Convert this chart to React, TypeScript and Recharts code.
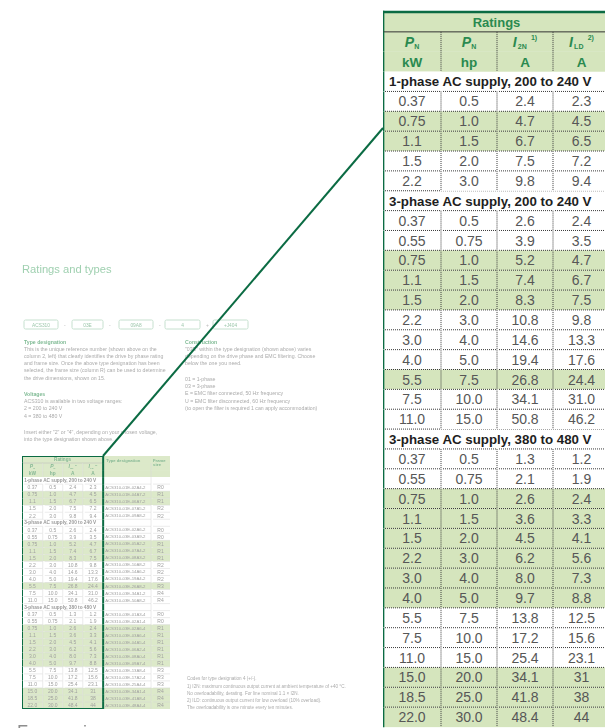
import React from 'react';
import { ComposedChart, Bar, XAxis, YAxis } from 'recharts';

// ---- table data ----
const sectionTitles = [
  '1-phase AC supply, 200 to 240 V',
  '3-phase AC supply, 200 to 240 V',
  '3-phase AC supply, 380 to 480 V',
];

const powerKw = [
  ['0.37', '0.75', '1.1', '1.5', '2.2'],
  ['0.37', '0.55', '0.75', '1.1', '1.5', '2.2', '3.0', '4.0', '5.5', '7.5', '11.0'],
  ['0.37', '0.55', '0.75', '1.1', '1.5', '2.2', '3.0', '4.0', '5.5', '7.5', '11.0', '15.0', '18.5', '22.0'],
];

const powerHp = [
  ['0.5', '1.0', '1.5', '2.0', '3.0'],
  ['0.5', '0.75', '1.0', '1.5', '2.0', '3.0', '4.0', '5.0', '7.5', '10.0', '15.0'],
  ['0.5', '0.75', '1.0', '1.5', '2.0', '3.0', '4.0', '5.0', '7.5', '10.0', '15.0', '20.0', '25.0', '30.0'],
];

const currentI2n = [
  ['2.4', '4.7', '6.7', '7.5', '9.8'],
  ['2.6', '3.9', '5.2', '7.4', '8.3', '10.8', '14.6', '19.4', '26.8', '34.1', '50.8'],
  ['1.3', '2.1', '2.6', '3.6', '4.5', '6.2', '8.0', '9.7', '13.8', '17.2', '25.4', '34.1', '41.8', '48.4'],
];

const currentIld = [
  ['2.3', '4.5', '6.5', '7.2', '9.4'],
  ['2.4', '3.5', '4.7', '6.7', '7.5', '9.8', '13.3', '17.6', '24.4', '31.0', '46.2'],
  ['1.2', '1.9', '2.4', '3.3', '4.1', '5.6', '7.3', '8.8', '12.5', '15.6', '23.1', '31', '38', '44'],
];

const shadedRows = [
  [0, 1, 1, 0, 0],
  [0, 0, 1, 1, 1, 0, 0, 0, 1, 0, 0],
  [0, 0, 1, 1, 1, 1, 1, 1, 0, 0, 0, 1, 1, 1],
];

// only visible (blurred) in the page thumbnail
const typeCodes = [
  ['ACS310-01E-02A4-2', 'ACS310-01E-04A7-2', 'ACS310-01E-06A7-2', 'ACS310-01E-07A5-2', 'ACS310-01E-09A8-2'],
  ['ACS310-03E-02A6-2', 'ACS310-03E-03A9-2', 'ACS310-03E-05A2-2', 'ACS310-03E-07A4-2', 'ACS310-03E-08A3-2',
    'ACS310-03E-10A8-2', 'ACS310-03E-14A6-2', 'ACS310-03E-19A4-2', 'ACS310-03E-26A8-2', 'ACS310-03E-34A1-2',
    'ACS310-03E-50A8-2'],
  ['ACS310-03E-01A3-4', 'ACS310-03E-02A1-4', 'ACS310-03E-02A6-4', 'ACS310-03E-03A6-4', 'ACS310-03E-04A5-4',
    'ACS310-03E-06A2-4', 'ACS310-03E-08A0-4', 'ACS310-03E-09A7-4', 'ACS310-03E-13A8-4', 'ACS310-03E-17A2-4',
    'ACS310-03E-25A4-4', 'ACS310-03E-34A1-4', 'ACS310-03E-41A8-4', 'ACS310-03E-48A4-4'],
];

const frameSizes = [
  ['R0', 'R1', 'R1', 'R2', 'R2'],
  ['R0', 'R0', 'R1', 'R1', 'R1', 'R2', 'R2', 'R2', 'R3', 'R4', 'R4'],
  ['R0', 'R0', 'R1', 'R1', 'R1', 'R1', 'R1', 'R1', 'R3', 'R3', 'R3', 'R4', 'R4', 'R4'],
];

const unitLabels = ['kW', 'hp', 'A', 'A'];

// ---- layout ----
const FONT = '"Liberation Sans", Arial, Helvetica, sans-serif';
const BIG_COLS = [58, 56, 56, 57];
const MINI_COLS = [58, 56, 56, 57, 134, 53];

type Look = {
  k: number;
  mini: boolean;
  fill: string;
  head: string;
  ink: string;
  sect: string;
  dot: string;
  dash?: string;
  rule: string;
  border: string;
  bw: number;
  soft?: string;
};

const bigLook: Look = {
  k: 1, mini: false, fill: '#d5e5bd', head: '#2a8a50', ink: '#575757', sect: '#1e1e1e',
  dot: '#3a3a3a', dash: '1 1', rule: '#333333', border: '#0b6b43', bw: 2.7,
};

const miniLook: Look = {
  k: 0.357, mini: true, fill: '#dce9c9', head: '#86b895', ink: '#a0a0a0', sect: '#9a9a9a',
  dot: '#d6d6d6', rule: '#b8b8b8', border: '#0b6b43', bw: 2, soft: 'url(#soft)',
};

function buildRows(cols: number[]) {
  const ratingW = cols[0] + cols[1] + cols[2] + cols[3];
  const span = (merged: boolean) => {
    const o: any = {};
    cols.forEach((c, i) => {
      o['w' + (i + 1)] = merged && i < 4 ? (i === 0 ? ratingW : 0) : c;
    });
    return o;
  };
  const rows: any[] = [];
  rows.push({ id: 'title', kind: 'title', top: 'none', ...span(true) });
  rows.push({ id: 'sym', kind: 'sym', top: 'solid', ...span(false) });
  rows.push({ id: 'unit', kind: 'unit', top: 'none', ...span(false) });
  sectionTitles.forEach((t, s) => {
    rows.push({ id: 's' + s, kind: 'section', label: t, top: s === 0 ? 'none' : 'dotted', ...span(true) });
    powerKw[s].forEach((kw, i) => {
      rows.push({
        id: 'd' + s + '-' + i,
        kind: 'data',
        cells: [kw, powerHp[s][i], currentI2n[s][i], currentIld[s][i], typeCodes[s][i], frameSizes[s][i]],
        shaded: shadedRows[s][i] === 1,
        top: 'dotted',
        ...span(false),
      });
    });
  });
  return rows;
}

function symbol(c: number, cx: number, cy: number, L: Look) {
  const fs = 14 * L.k;
  const common = {
    x: cx, y: cy + fs * 0.36, textAnchor: 'middle' as const, fill: L.head,
    fontWeight: 'bold', fontFamily: FONT, fontSize: fs,
  };
  if (c < 2) {
    return (
      <text {...common}>
        <tspan fontStyle="italic">P</tspan>
        <tspan fontSize={fs * 0.5} dy={fs * 0.12}>N</tspan>
      </text>
    );
  }
  if (c > 3) return null;
  const sub = c === 2 ? '2N' : 'LD';
  const sup = c === 2 ? '1)' : '2)';
  return (
    <text {...common}>
      <tspan fontStyle="italic">I</tspan>
      <tspan fontSize={fs * 0.5} dy={fs * 0.12} dx={fs * 0.08}>{sub}</tspan>
      <tspan fontSize={fs * 0.5} dy={-fs * 0.62} dx={fs * 0.3}>{sup}</tspan>
    </text>
  );
}

const makeCell = (c: number, L: Look, last: number) => (p: any) => {
  const { x, y, width, height, payload: r, index } = p;
  if (!(width > 0.01) || !r) return <g />;
  const k = L.k;
  const header = r.kind === 'title' || r.kind === 'sym' || r.kind === 'unit';
  const fill = header || r.shaded ? L.fill : '#ffffff';
  const cx = x + width / 2;
  const cy = y + height / 2;
  const topStyle = c >= 4 && (r.kind === 'sym' || r.kind === 'unit') ? 'none' : r.top;
  const lw = L.mini ? 0.5 : 1;

  let label: React.ReactNode = null;
  if (r.kind === 'title') {
    if (c === 0) {
      label = (
        <text x={cx} y={cy + 13 * k * 0.36} textAnchor="middle" fill={L.head} fontWeight="bold"
          fontFamily={FONT} fontSize={13 * k}>Ratings</text>
      );
    } else if (c === 4) {
      label = (
        <text x={x + 3} y={y + height * 0.8} fill={L.head} fontWeight="bold" fontFamily={FONT}
          fontSize={4.2}>Type designation</text>
      );
    } else if (c === 5) {
      label = (
        <text x={x + 2} y={y + height * 0.8} fill={L.head} fontWeight="bold" fontFamily={FONT}
          fontSize={4.2}>Frame</text>
      );
    }
  } else if (r.kind === 'sym') {
    if (c === 5) {
      label = (
        <text x={x + 2} y={y + 3} fill={L.head} fontWeight="bold" fontFamily={FONT} fontSize={4.2}>size</text>
      );
    } else {
      label = symbol(c, cx, cy, L);
    }
  } else if (r.kind === 'unit') {
    if (c < 4) {
      label = (
        <text x={cx} y={cy + 13.5 * k * 0.36} textAnchor="middle" fill={L.head} fontWeight="bold"
          fontFamily={FONT} fontSize={13.5 * k}>{unitLabels[c]}</text>
      );
    }
  } else if (r.kind === 'section') {
    if (c === 0) {
      label = (
        <text x={x + 6 * k} y={cy + 13.3 * k * 0.36} fill={L.sect} fontWeight="bold"
          fontFamily={FONT} fontSize={13.3 * k}>{r.label}</text>
      );
    }
  } else {
    const v = r.cells[c];
    if (c === 4) {
      label = (
        <text x={x + 2} y={cy + 1.5} fill={L.ink} fontFamily={FONT} fontSize={4.3}>{v}</text>
      );
    } else {
      label = (
        <text x={cx} y={cy + 14 * k * 0.36} textAnchor="middle" fill={L.ink} fontFamily={FONT}
          fontSize={14 * k}>{v}</text>
      );
    }
  }

  const borderLeft = (!L.mini && c === 0) || (L.mini && (c === 0 || c === 4));
  const topBorder = r.kind === 'title' && c < 4;

  return (
    <g>
      <rect x={x} y={y} width={width} height={height} fill={fill} />
      {topStyle === 'solid' && (
        <line x1={x} x2={x + width} y1={y} y2={y} stroke={L.rule} strokeWidth={lw} />
      )}
      {topStyle === 'dotted' && (
        <line x1={x + 2} x2={x + width} y1={y} y2={y} stroke={L.dot} strokeWidth={lw}
          strokeDasharray={L.dash} />
      )}
      {c > 0 && !borderLeft && r.kind !== 'title' && (
        <line x1={x} x2={x} y1={y} y2={y + height} stroke={L.dot} strokeWidth={lw}
          strokeDasharray={L.dash} />
      )}
      {label && <g filter={L.soft}>{label}</g>}
      {borderLeft && (
        <line x1={x} x2={x} y1={topBorder || (c === 4 && r.kind === 'title') ? y - L.bw / 2 : y}
          y2={y + height} stroke={L.border} strokeWidth={L.bw} />
      )}
      {topBorder && (
        <line x1={x - L.bw / 2} x2={x + width + (L.mini ? L.bw / 2 : 0)} y1={y} y2={y}
          stroke={L.border} strokeWidth={L.bw} />
      )}
      {L.mini && c < 4 && index === last && (
        <line x1={x - L.bw / 2} x2={x + width} y1={y + height} y2={y + height}
          stroke={L.border} strokeWidth={L.bw} />
      )}
    </g>
  );
};

function RatingsTable(props: { cols: number[]; look: Look; width: number; height: number; margin: any }) {
  const { cols, look, width, height, margin } = props;
  const rows = buildRows(cols);
  const total = cols.reduce((a, b) => a + b, 0);
  const last = rows.length - 1;
  return (
    <ComposedChart layout="vertical" width={width} height={height} data={rows} margin={margin}
      barCategoryGap={0} barGap={0}>
      <XAxis type="number" domain={[0, total]} allowDataOverflow hide />
      <YAxis type="category" dataKey="id" hide />
      {cols.map((_, c) => (
        <Bar key={c} dataKey={'w' + (c + 1)} stackId="t" isAnimationActive={false}
          shape={makeCell(c, look, last)} />
      ))}
    </ComposedChart>
  );
}

// ---- blurred page around the small table ----
function PageText() {
  const txt = { fontFamily: FONT, fontSize: 5.2, fill: '#ababab' };
  const head = { fontFamily: FONT, fontSize: 5.2, fill: '#80bb95', fontWeight: 'bold' as const };
  const boxes = [
    [24, 58, 'ACS310'], [72, 103, '03E'], [119, 153, '09A8'], [165, 200, '4'], [213, 248, '+J404'],
  ] as const;
  return (
    <svg width={605} height={728} style={{ position: 'absolute', left: 0, top: 0 }}>
      <defs>
        <filter id="soft" x="-5%" y="-30%" width="110%" height="160%">
          <feGaussianBlur stdDeviation="0.45" />
        </filter>
      </defs>
      <g filter="url(#soft)">
        <text x={22} y={273} fontFamily={FONT} fontSize={11.2} fill="#9fd0b0">Ratings and types</text>
        {boxes.map(([a, b, t], i) => (
          <g key={i}>
            <rect x={a} y={320} width={b - a} height={9} rx={1.5} fill="none" stroke="#c6e0cf" strokeWidth={1} />
            <text x={(a + b) / 2} y={326.5} textAnchor="middle" fontFamily={FONT} fontSize={4.8} fill="#9cc7ab">{t}</text>
            {i < 4 && <text x={b + 6} y={326.5} fontFamily={FONT} fontSize={5} fill="#bbb">{i === 3 ? '+' : '-'}</text>}
          </g>
        ))}
        <text x={24} y={344} {...head}>Type designation</text>
        <text x={24} y={351} {...txt}>This is the unique reference number (shown above on the</text>
        <text x={24} y={358} {...txt}>column 2, left) that clearly identifies the drive by phase rating</text>
        <text x={24} y={365} {...txt}>and frame size. Once the above type designation has been</text>
        <text x={24} y={372} {...txt}>selected, the frame size (column R) can be used to determine</text>
        <text x={24} y={380} {...txt}>the drive dimensions, shown on 15.</text>
        <text x={24} y={396} {...head}>Voltages</text>
        <text x={24} y={403} {...txt}>ACS310 is available in two voltage ranges:</text>
        <text x={24} y={410} {...txt}>2 = 200 to 240 V</text>
        <text x={24} y={418} {...txt}>4 = 380 to 480 V</text>
        <text x={24} y={434} {...txt}>Insert either "2" or "4", depending on your chosen voltage,</text>
        <text x={24} y={441} {...txt}>into the type designation shown above.</text>

        <text x={185} y={344} {...head}>Construction</text>
        <text x={185} y={351} {...txt}>"03E" within the type designation (shown above) varies</text>
        <text x={185} y={358} {...txt}>depending on the drive phase and EMC filtering. Choose</text>
        <text x={185} y={365} {...txt}>below the one you need.</text>
        <text x={185} y={381} {...txt}>01 = 1-phase</text>
        <text x={185} y={388} {...txt}>03 = 3-phase</text>
        <text x={185} y={395} {...txt}>E = EMC filter connected, 50 Hz frequency</text>
        <text x={185} y={403} {...txt}>U = EMC filter disconnected, 60 Hz frequency</text>
        <text x={185} y={410} {...txt}>      (to open the filter is required 1 can apply accommodation)</text>

        <text x={187} y={680} {...txt} fontSize={4.6}>Codes for type designation 4 (+/-).</text>
        <text x={187} y={688} {...txt} fontSize={4.6}>1) I2N: maximum continuous output current at ambient temperature of +40 °C.</text>
        <text x={187} y={695} {...txt} fontSize={4.6}>    No overloadability, derating. For line nominal 1.1 × I2N.</text>
        <text x={187} y={702} {...txt} fontSize={4.6}>2) ILD: continuous output current for low overload (10% overload).</text>
        <text x={187} y={709} {...txt} fontSize={4.6}>    The overloadability is one minute every ten minutes.</text>

        <text x={17} y={738} fontFamily={FONT} fontSize={18} fill="#8e8e8e">Frame sizes</text>
      </g>
    </svg>
  );
}

export default function App() {
  return (
    <div style={{ position: 'relative', width: 605, height: 728, overflow: 'hidden', background: '#ffffff' }}>
      <style>{'body{margin:0}'}</style>
      <PageText />
      <div style={{ position: 'absolute', left: 22, top: 456 }}>
        <RatingsTable cols={MINI_COLS} look={miniLook} width={148} height={253}
          margin={{ top: 0, right: 0, bottom: 0, left: 0 }} />
      </div>
      <div style={{ position: 'absolute', left: 378, top: 0 }}>
        <RatingsTable cols={BIG_COLS} look={bigLook} width={240} height={728}
          margin={{ top: 12, right: 8, bottom: 1, left: 5 }} />
      </div>
      <svg width={605} height={728} style={{ position: 'absolute', left: 0, top: 0, pointerEvents: 'none' }}>
        <line x1={103} y1={456} x2={383} y2={128} stroke="#0b6b43" strokeWidth={2} />
      </svg>
    </div>
  );
}
